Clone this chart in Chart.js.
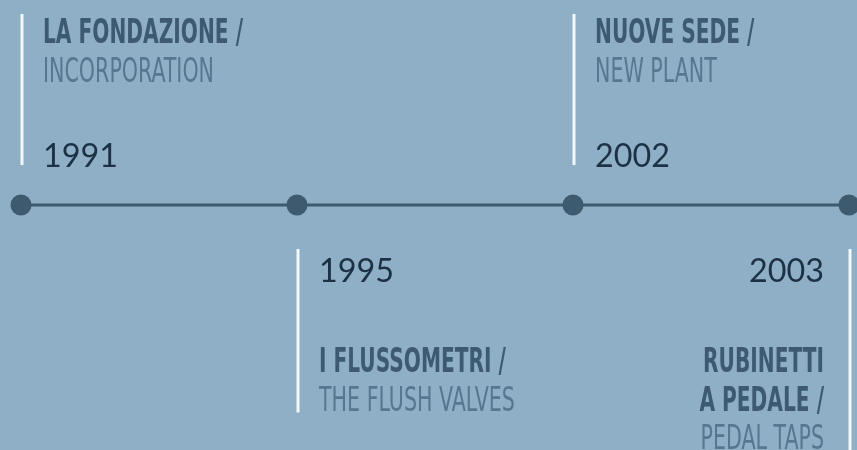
<!DOCTYPE html>
<html><head><meta charset="utf-8">
<script src="https://cdn.jsdelivr.net/npm/chart.js@4"></script>
<style>
html,body{margin:0;padding:0;background:#8fafc7;}
#wrap{width:857px;height:450px;position:relative;}
</style></head>
<body><div id="wrap"><canvas id="c" width="857" height="450"></canvas></div>
<script>
const years = ['1991', '1995', '2002', '2003'];
const titles = [['LA FONDAZIONE /'], ['I FLUSSOMETRI /'], ['NUOVE SEDE /'], ['RUBINETTI', 'A PEDALE /']];
const subtitles = [['INCORPORATION'], ['THE FLUSH VALVES'], ['NEW PLANT'], ['PEDAL TAPS']];
const values = [0, 0, 0, 0];

const HEAD_FONT = 'bold 34px "Liberation Sans Narrow", "DejaVu Sans Condensed", sans-serif';
const SUB_FONT = '33px "Liberation Sans Narrow", "DejaVu Sans Condensed", sans-serif';
const YEAR_FONT = '32px Lato, "Open Sans", sans-serif';

const timelinePlugin = {
  id: 'timeline',
  beforeDatasetsDraw(chart) {
    const ctx = chart.ctx;
    const meta = chart.getDatasetMeta(0);
    ctx.save();
    ctx.font = HEAD_FONT;
    const headScale = 200 / ctx.measureText('LA FONDAZIONE /').width;
    ctx.font = SUB_FONT;
    const subScale = 171 / ctx.measureText('INCORPORATION').width;
    ctx.font = YEAR_FONT;
    const yearScale = 75 / ctx.measureText('2003').width;
    ctx.restore();

    const drawScaled = (txt, x, y, font, color, scale, align) => {
      ctx.save();
      ctx.font = font;
      ctx.fillStyle = color;
      ctx.textBaseline = 'alphabetic';
      ctx.translate(x, y);
      ctx.scale(scale, 1);
      ctx.textAlign = align;
      ctx.fillText(txt, 0, 0);
      ctx.restore();
    };

    meta.data.forEach((pt, i) => {
      const x = pt.x, y = pt.y;
      const top = i % 2 === 0;
      const right = i === meta.data.length - 1;
      const align = right ? 'right' : 'left';
      const tx = right ? x - 25 : x + 22;
      const lines = [];
      titles[i].forEach(t => lines.push([t, HEAD_FONT, '#3d5a70', headScale]));
      subtitles[i].forEach(t => lines.push([t, SUB_FONT, '#587690', subScale]));
      const step = 38.5;
      let lineTop, lineBot;
      if (top) {
        const base0 = y - 162;
        lines.forEach((l, k) => drawScaled(l[0], tx, base0 + k * step, l[1], l[2], l[3], align));
        drawScaled(years[i], tx, y - 38, YEAR_FONT, '#1c3144', yearScale, align);
        lineTop = y - 191; lineBot = y - 40;
      } else {
        drawScaled(years[i], tx, y + 77, YEAR_FONT, '#1c3144', yearScale, align);
        const base0 = y + 167;
        lines.forEach((l, k) => drawScaled(l[0], tx, base0 + k * step, l[1], l[2], l[3], align));
        lineTop = y + 44; lineBot = base0 + (lines.length - 1) * step + 2;
      }
      ctx.save();
      ctx.strokeStyle = '#f2f7fb';
      ctx.lineWidth = 3;
      ctx.beginPath();
      ctx.moveTo(x + 1, lineTop);
      ctx.lineTo(x + 1, lineBot);
      ctx.stroke();
      ctx.restore();
    });
  }
};

new Chart(document.getElementById('c'), {
  type: 'line',
  data: {
    labels: years,
    datasets: [{
      data: values,
      borderColor: '#3d5a6e',
      borderWidth: 3,
      pointRadius: 10.5,
      pointHoverRadius: 10.5,
      pointBackgroundColor: '#3d5a6e',
      pointBorderWidth: 0,
      clip: false,
      tension: 0
    }]
  },
  options: {
    responsive: false,
    animation: false,
    events: [],
    layout: { autoPadding: false, padding: { left: 21, right: 8, top: 0, bottom: 40 } },
    plugins: { legend: { display: false }, tooltip: { enabled: false } },
    scales: {
      x: { type: 'category', offset: false, display: false },
      y: { min: -1, max: 1, display: false }
    }
  },
  plugins: [timelinePlugin]
});
</script>
</body></html>
